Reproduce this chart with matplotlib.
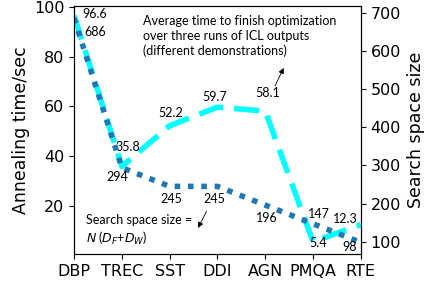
import numpy as np
import matplotlib.pyplot as plt

# data
datasets = ['DBP', 'TREC', 'SST', 'DDI', 'AGN', 'PMQA', 'RTE']
anneal_time = [96.6, 35.8, 52.2, 59.7, 58.1, 5.4, 12.3]
space_size = [686, 294, 245, 245, 196, 147, 98]

# label offsets (points) for each value label
time_offsets = [(15, 1), (4, 14), (1, 9), (-2, 7), (2, 13), (4, -1), (-11, 4)]
space_offsets = [(15, -10), (-3, -7), (1, -9), (-2, -9), (1, -9), (4, 7), (-8, -3)]

x = np.arange(len(datasets))

fig = plt.figure(figsize=(4.28, 2.84), dpi=100)
ax = fig.add_axes([0.173, 0.106, 0.670, 0.873])
ax2 = ax.twinx()

ax.plot(x, anneal_time, color='#00ffff', lw=4, linestyle=(0, (4.5, 2)))
ax2.plot(x, space_size, color='#1f77b4', lw=4, linestyle=(0, (1, 1.4)))

ax.set_xlim(0, 6)
ax.set_ylim(0.5, 100.5)
ax2.set_ylim(68, 718)
ax.set_xticks(x)
ax.set_xticklabels(datasets, fontsize=11.5)
ax.set_yticks([20, 40, 60, 80, 100])
ax2.set_yticks([100, 200, 300, 400, 500, 600, 700])
ax.tick_params(axis='y', labelsize=11.5)
ax2.tick_params(axis='y', labelsize=11.5)
ax.set_ylabel('Annealing time/sec', fontsize=12.5, labelpad=3)
ax2.set_ylabel('Search space size', fontsize=12.5, labelpad=4)

ann_font = 'Lato'
for i, v in enumerate(anneal_time):
    ax.annotate(f'{v}', xy=(i, v), xytext=time_offsets[i], textcoords='offset points',
                ha='center', va='center', fontsize=9, family=ann_font)
for i, v in enumerate(space_size):
    ax2.annotate(f'{v}', xy=(i, v), xytext=space_offsets[i], textcoords='offset points',
                 ha='center', va='center', fontsize=9, family=ann_font)

ax.text(1.45, 97, 'Average time to finish optimization\nover three runs of ICL outputs\n(different demonstrations)',
        fontsize=9, family=ann_font, va='top', ha='left', linespacing=1.3)
ax.annotate('', xy=(4.41, 76.5), xytext=(4.18, 67.2),
            arrowprops=dict(arrowstyle='-|>', color='black', lw=0.6, mutation_scale=8))

ax.text(0.25, 16.5, 'Search space size =\n$N$ ($D_F$+$D_W$)',
        fontsize=9, family=ann_font, va='top', ha='left', linespacing=1.3)
ax.annotate('', xy=(2.57, 10), xytext=(2.8, 18.8),
            arrowprops=dict(arrowstyle='-|>', color='black', lw=0.6, mutation_scale=8))

fig.savefig('out.png', dpi=100)
